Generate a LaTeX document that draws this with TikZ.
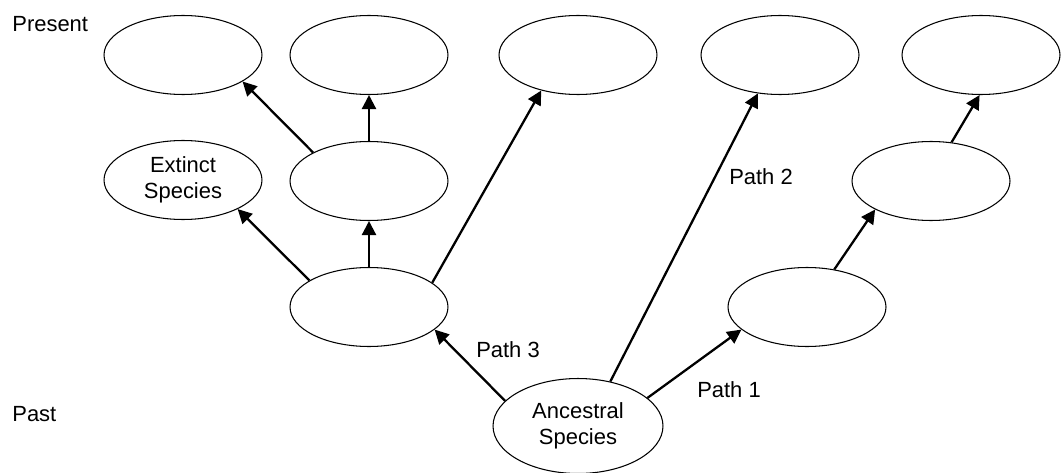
\documentclass[tikz,border=0pt]{standalone}
\usepackage{fontspec}
\setmainfont{Liberation Sans}
\usetikzlibrary{arrows.meta,shapes.geometric}

\begin{document}
\begin{tikzpicture}[x=0.02cm, y=-0.02cm, >={Triangle[length=8pt,width=8pt]}, font=\fontsize{12.5pt}{14.5pt}\selectfont,
species node/.style={ellipse, draw, line width=0.6pt, minimum width=3.16cm, minimum height=1.58cm, inner sep=1pt, align=center},
time label/.style={anchor=west, inner sep=0pt}]
\useasboundingbox (0,0) rectangle (1061,473);

% present
\node[species node] (p1) at (183,55) {};
\node[species node] (p2) at (369,55) {};
\node[species node] (p3) at (578,55) {};
\node[species node] (p4) at (780,55) {};
\node[species node] (p5) at (981,55) {};
% middle
\node[species node] (m1) at (183,180) {Extinct\\Species};
\node[species node] (m2) at (369,181) {};
\node[species node] (m3) at (931,181) {};
% lower
\node[species node] (l1) at (369,307) {};
\node[species node] (l2) at (807,307) {};
\node[species node, minimum width=3.4cm, minimum height=1.9cm] (anc) at (578,426) {Ancestral\\Species};

\node[time label] (present) at (12,24) {Present};
\node[time label] (past) at (12,414) {Past};
\node (path1) at (729,390) {Path 1};
\node (path2) at (761,177) {Path 2};
\node (path3) at (508,350) {Path 3};

\path[->, line width=1.3pt]
(anc.161) edge (l1.341)
(anc.54) edge (p4.240)
(anc.22) edge (l2.199)
(l2.54) edge (m3.207)
(m3.62) edge (p5.268)
(l1.21) edge (p3.224)
(l1.90) edge (m2.270)
(l1.156) edge (m1.332)
(m2.153) edge (p1.336)
(m2.90) edge (p2.270);

\end{tikzpicture}
\end{document}
